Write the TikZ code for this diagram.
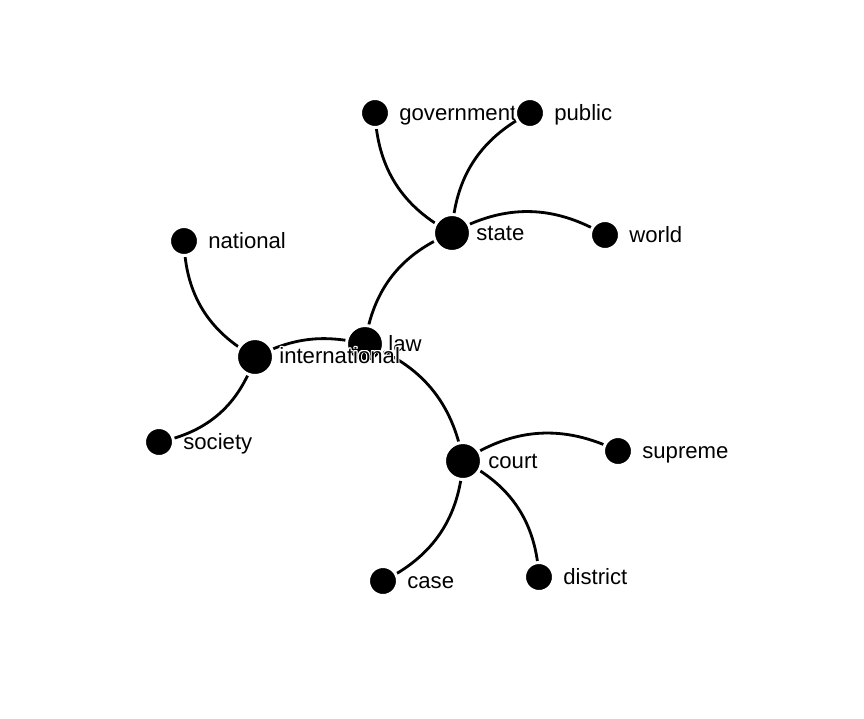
\documentclass[tikz,border=0pt]{standalone}
\usepackage{fontspec}
\setmainfont{Liberation Sans}
\usepackage[copies]{contour}
\contourlength{0.55pt}
\contournumber{16}
\usepackage{tikz}
\usetikzlibrary{backgrounds}

\newcommand{\halo}[1]{\contour{white}{#1}}

\begin{document}
\begin{tikzpicture}[x=0.02cm, y=-0.02cm,
        hub/.style={circle, fill=black, draw=white, line width=0.06cm, minimum size=0.74cm, inner sep=0pt},
        leaf/.style={circle, fill=black, draw=white, line width=0.06cm, minimum size=0.58cm, inner sep=0pt},
        word/.style={anchor=base west, inner sep=0pt, font=\fontsize{12.6}{14}\selectfont},
        link/.style={line width=1.6pt, bend left=30}]
    \useasboundingbox (0,0) rectangle (864,718);

    \node[hub] (law) at (365,344) {};
    \node[word] (lawt) at (388,351) {law};
    \node[hub] (international) at (255,357) {};
    \node[word] (internationalt) at (279,363) {\halo{international}};
    \node[hub] (state) at (452,233) {};
    \node[word] (statet) at (476,240) {state};
    \node[leaf] (government) at (375,113) {};
    \node[word] (governmentt) at (399,120) {government};
    \node[leaf] (public) at (530,113) {};
    \node[word] (publict) at (554,120) {public};
    \node[leaf] (world) at (605,235) {};
    \node[word] (worldt) at (629,242) {world};
    \node[hub] (court) at (463,461) {};
    \node[word] (courtt) at (488,468) {court};
    \node[leaf] (supreme) at (618,451) {};
    \node[word] (supremet) at (642,458) {supreme};
    \node[leaf] (district) at (539,577) {};
    \node[word] (districtt) at (563,584) {district};
    \node[leaf] (case) at (383,581) {};
    \node[word] (caset) at (407,588) {case};
    \node[leaf] (national) at (184,241) {};
    \node[word] (nationalt) at (208,248) {national};
    \node[leaf] (society) at (159,442) {};
    \node[word] (societyt) at (183,449) {society};

    \begin{pgfonlayer}{background}
        \draw[link] (law.center) to (state.center);
        \draw[link] (law.center) to (court.center);
        \draw[link, bend left=20] (international.center) to (law.center);
        \draw[link] (state.center) to (government.center);
        \draw[link] (state.center) to (public.center);
        \draw[link] (state.center) to (world.center);
        \draw[link] (court.center) to (supreme.center);
        \draw[link] (court.center) to (district.center);
        \draw[link] (court.center) to (case.center);
        \draw[link] (international.center) to (national.center);
        \draw[link] (international.center) to (society.center);
    \end{pgfonlayer}
\end{tikzpicture}
\end{document}
